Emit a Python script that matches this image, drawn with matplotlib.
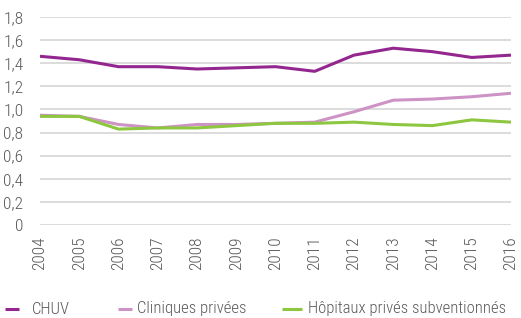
import matplotlib
matplotlib.use("Agg")
import matplotlib.pyplot as plt
from matplotlib.ticker import FuncFormatter
from matplotlib.lines import Line2D

plt.rcParams['font.family'] = ['Roboto Condensed', 'Fira Sans Condensed', 'Archivo Narrow', 'DejaVu Sans']
plt.rcParams['font.weight'] = 'light'

years = list(range(2004, 2017))
chuv = [1.46, 1.43, 1.37, 1.37, 1.35, 1.36, 1.37, 1.33, 1.47, 1.53, 1.50, 1.45, 1.47]
cliniques = [0.95, 0.94, 0.87, 0.84, 0.87, 0.87, 0.88, 0.89, 0.98, 1.08, 1.09, 1.11, 1.14]
hopitaux = [0.94, 0.94, 0.83, 0.84, 0.84, 0.86, 0.88, 0.88, 0.89, 0.87, 0.86, 0.91, 0.89]

labels = ['CHUV', 'Cliniques privées', 'Hôpitaux privés subventionnés']
colors = ['#93278F', '#CC93C4', '#8DC63F']
text_color = '#595959'

W, H = 521, 318
fig = plt.figure(figsize=(W / 100, H / 100), dpi=100)
ax = fig.add_axes([40 / W, 1 - 225 / H, 471 / W, 208 / H])

for vals, lab, col in zip([chuv, cliniques, hopitaux], labels, colors):
    ax.plot(years, vals, color=col, linewidth=2.2, label=lab, solid_capstyle='butt')

ax.set_xlim(2004, 2016)
ax.set_ylim(0, 1.8)
ax.set_yticks([i * 0.2 for i in range(10)])
ax.yaxis.set_major_formatter(FuncFormatter(lambda v, p: '0' if abs(v) < 1e-9 else f'{v:.1f}'.replace('.', ',')))
ax.set_xticks(years)
ax.set_xticklabels([str(y) for y in years], rotation=90)
ax.grid(axis='y', color='#d9d9d9', linewidth=1.3)
ax.set_axisbelow(True)
for s in ax.spines.values():
    s.set_visible(False)
ax.tick_params(length=0, labelsize=12.5, colors=text_color)
ax.tick_params(axis='y', pad=12)
ax.tick_params(axis='x', pad=8)

# legend placed by hand along the bottom (handle start, handle end, text start in px)
legend_pos = [(5, 19, 32), (118, 132, 137), (282, 302, 308)]
y = 1 - 309 / H
for (h0, h1, tx), lab, col in zip(legend_pos, labels, colors):
    fig.add_artist(Line2D([h0 / W, h1 / W], [y, y], color=col, linewidth=2.2,
                          solid_capstyle='butt', transform=fig.transFigure))
    fig.text(tx / W, y, lab, color=text_color, fontsize=12, va='center', ha='left')

fig.savefig('out.png', dpi=100)
